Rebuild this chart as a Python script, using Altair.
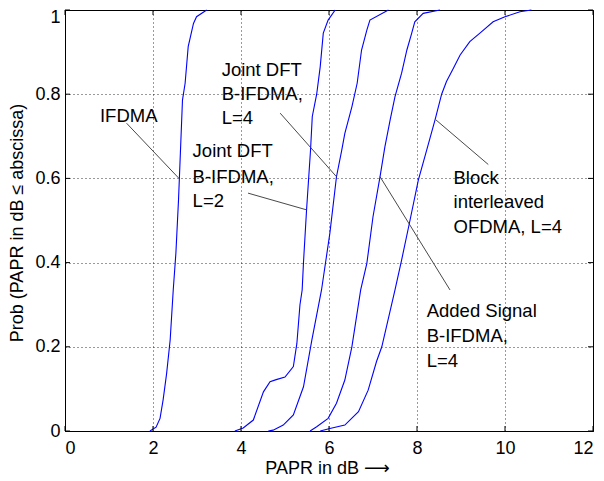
import altair as alt
import pandas as pd

# ---- axis ticks ----
x_ticks = [0, 2, 4, 6, 8, 10, 12]
y_ticks = [0, 0.2, 0.4, 0.6, 0.8, 1]

# ---- curves ----
ifdma_x = [1.93, 2.07, 2.16, 2.23, 2.31, 2.39, 2.46, 2.52, 2.58, 2.61, 2.67, 2.73, 2.80, 2.92, 2.99, 3.22]
ifdma_y = [0, 0.009, 0.03, 0.074, 0.137, 0.216, 0.335, 0.422, 0.549, 0.628, 0.786, 0.826, 0.913, 0.968, 0.984, 1.0]

jdft2_x = [3.86, 4.05, 4.28, 4.51, 4.66, 4.80, 5.0, 5.19, 5.27, 5.34, 5.39, 5.42, 5.49, 5.58, 5.62, 5.72, 5.80, 5.87, 5.98, 6.14]
jdft2_y = [0, 0.007, 0.026, 0.093, 0.117, 0.122, 0.128, 0.153, 0.208, 0.30, 0.335, 0.40, 0.525, 0.667, 0.747, 0.80, 0.865, 0.945, 0.976, 1.0]

jdft4_x = [4.62, 4.73, 4.96, 5.19, 5.42, 5.61, 5.83, 6.02, 6.17, 6.29, 6.36, 6.52, 6.64, 6.74, 6.86, 6.93, 7.35]
jdft4_y = [0, 0.002, 0.014, 0.038, 0.105, 0.216, 0.335, 0.47, 0.604, 0.667, 0.707, 0.77, 0.826, 0.905, 0.952, 0.976, 1.0]

added_x = [5.57, 5.72, 5.98, 6.17, 6.36, 6.52, 6.72, 6.86, 7.0, 7.16, 7.27, 7.39, 7.5, 7.65, 7.77, 7.88, 7.95, 8.14, 8.52]
added_y = [0, 0.01, 0.03, 0.066, 0.121, 0.2, 0.335, 0.398, 0.509, 0.604, 0.675, 0.739, 0.794, 0.85, 0.905, 0.945, 0.972, 0.992, 1.0]

block_x = [5.8, 6.02, 6.36, 6.67, 6.89, 7.08, 7.2, 7.5, 7.65, 7.84, 8.03, 8.22, 8.41, 8.56, 8.67, 8.83, 8.98, 9.2, 9.43, 9.73, 10.0, 10.34, 10.6]
block_y = [0, 0.006, 0.014, 0.046, 0.097, 0.165, 0.2, 0.335, 0.406, 0.50, 0.596, 0.667, 0.739, 0.80, 0.83, 0.862, 0.893, 0.925, 0.945, 0.972, 0.984, 0.996, 1.0]

series_names = ["IFDMA", "Joint DFT B-IFDMA, L=2", "Joint DFT B-IFDMA, L=4",
                "Added Signal B-IFDMA, L=4", "Block interleaved OFDMA, L=4"]
series_x = [ifdma_x, jdft2_x, jdft4_x, added_x, block_x]
series_y = [ifdma_y, jdft2_y, jdft4_y, added_y, block_y]

# ---- annotations (data coordinates) ----
label_text = ["IFDMA",
              "Joint DFT", "B-IFDMA,", "L=2",
              "Joint DFT", "B-IFDMA,", "L=4",
              "Block", "interleaved", "OFDMA, L=4",
              "Added Signal", "B-IFDMA,", "L=4"]
label_x = [0.795,
           2.90, 2.90, 2.90,
           3.56, 3.56, 3.56,
           8.83, 8.83, 8.83,
           8.22, 8.22, 8.22]
label_y = [0.734,
           0.651, 0.590, 0.533,
           0.843, 0.786, 0.729,
           0.586, 0.529, 0.470,
           0.270, 0.212, 0.153]

leader_x1 = [1.40, 4.16, 4.89, 9.62, 8.75]
leader_y1 = [0.731, 0.565, 0.755, 0.633, 0.335]
leader_x2 = [2.59, 5.50, 6.17, 8.43, 7.16]
leader_y2 = [0.600, 0.525, 0.604, 0.739, 0.604]

rows = []
for name, xs, ys in zip(series_names, series_x, series_y):
    for i, (a, b) in enumerate(zip(xs, ys)):
        rows.append({"series": name, "x": a, "y": b, "order": i})
curves = pd.DataFrame(rows)
labels = pd.DataFrame({"text": label_text, "x": label_x, "y": label_y})
leaders = pd.DataFrame({"x": leader_x1, "y": leader_y1, "x2": leader_x2, "y2": leader_y2})
xt = pd.DataFrame({"v": x_ticks})
yt = pd.DataFrame({"v": y_ticks})

FONT = "Liberation Sans, Arial, DejaVu Sans"
xscale = alt.Scale(domain=[0, 12], nice=False, zero=False)
yscale = alt.Scale(domain=[0, 1], nice=False)

lines = alt.Chart(curves).mark_line(color="#0000ff", strokeWidth=1.1).encode(
    x=alt.X("x:Q", scale=xscale,
            axis=alt.Axis(values=x_ticks, title="PAPR in dB ⟶", labelPadding=8,
                          titleX=262, titleY=42, titleBaseline="alphabetic")),
    y=alt.Y("y:Q", scale=yscale,
            axis=alt.Axis(values=y_ticks, format="~g", title="Prob (PAPR in dB ≤ abscissa)",
                          labelPadding=5, titleX=-43, titleY=212.5, titleBaseline="alphabetic",
                          titleAngle=-90,
                          labelOffset={"condition": {"test": "datum.value == 1", "value": 7},
                                       "value": 0})),
    detail="series:N",
    order="order:Q",
)

lead = alt.Chart(leaders).mark_rule(color="#333333", strokeWidth=0.9).encode(
    x=alt.X("x:Q", scale=xscale), y=alt.Y("y:Q", scale=yscale),
    x2="x2:Q", y2="y2:Q",
)

txt = alt.Chart(labels).mark_text(align="left", baseline="alphabetic", font=FONT,
                                  fontSize=18.5, color="black").encode(
    x=alt.X("x:Q", scale=xscale), y=alt.Y("y:Q", scale=yscale), text="text:N",
)

tick_b = alt.Chart(xt).mark_rule(color="black", strokeWidth=1).encode(
    x=alt.X("v:Q", scale=xscale), y=alt.value(421), y2=alt.value(416))
tick_t = alt.Chart(xt).mark_rule(color="black", strokeWidth=1).encode(
    x=alt.X("v:Q", scale=xscale), y=alt.value(0), y2=alt.value(5))
tick_l = alt.Chart(yt).mark_rule(color="black", strokeWidth=1).encode(
    y=alt.Y("v:Q", scale=yscale), x=alt.value(0), x2=alt.value(5))
tick_r = alt.Chart(yt).mark_rule(color="black", strokeWidth=1).encode(
    y=alt.Y("v:Q", scale=yscale), x=alt.value(528), x2=alt.value(523))

chart = alt.layer(lines, lead, txt, tick_b, tick_t, tick_l, tick_r).properties(
    width=528, height=421,
    autosize=alt.AutoSizeParams(type="none"),
    padding={"left": 57, "top": 2, "right": 3, "bottom": 45},
).configure_axis(
    labelFont=FONT, labelFontSize=18, labelColor="black",
    titleFont=FONT, titleFontSize=18, titleColor="black", titleFontWeight="normal",
    tickSize=0, domainColor="black",
    gridColor="black", gridDash=[1, 3], gridOpacity=1, gridWidth=0.8,
).configure_view(stroke="black", strokeWidth=1)

chart.save("out.html", embed_options={"renderer": "svg", "actions": False})
